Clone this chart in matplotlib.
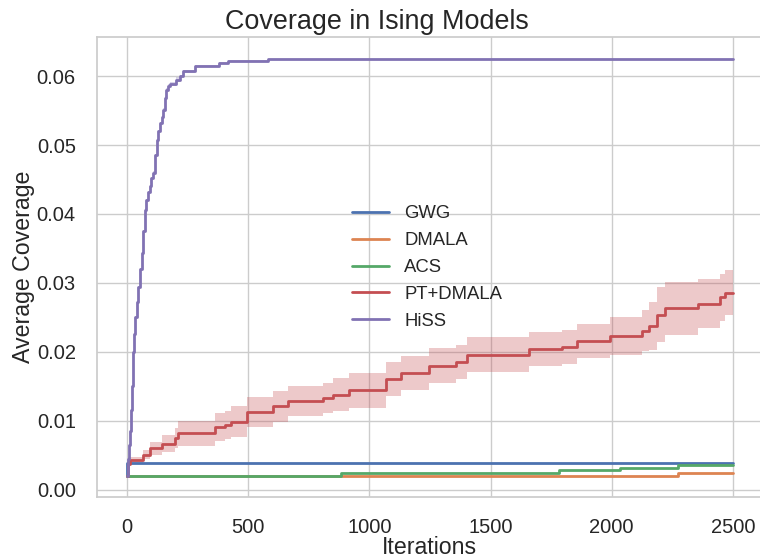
import matplotlib
matplotlib.use("Agg")
import matplotlib.pyplot as plt
import numpy as np
import seaborn as sns

sns.set_theme(style="whitegrid", palette="deep")
plt.rcParams['font.family'] = ['Liberation Sans', 'DejaVu Sans']

N_ITERS = 2500

# Step-wise coverage curves: (iteration where the value changes, new value)
gwg_iter = [0, 2]
gwg_val = [0.0020, 0.0039]

dmala_iter = [0, 2273]
dmala_val = [0.0020, 0.0024]

acs_iter = [0, 883, 1782, 2033, 2273]
acs_val = [0.0020, 0.0024, 0.0028, 0.0032, 0.0036]

pt_iter = [0, 3, 12, 65, 95, 143, 198, 211, 362, 403, 431, 497, 602, 664, 808,
           849, 918, 1069, 1130, 1247, 1359, 1405, 1658, 1796, 1858, 1995,
           2125, 2152, 2187, 2221, 2358, 2447, 2468]
pt_mean = [0.0020, 0.0037, 0.0043, 0.0051, 0.0060, 0.0067, 0.0075, 0.0082,
           0.0091, 0.0094, 0.0099, 0.0113, 0.0121, 0.0129, 0.0133, 0.0138,
           0.0144, 0.0161, 0.0169, 0.0180, 0.0185, 0.0196, 0.0204, 0.0207,
           0.0216, 0.0223, 0.0231, 0.0238, 0.0254, 0.0263, 0.0270, 0.0279,
           0.0286]
pt_std = [0.0000, 0.0003, 0.0004, 0.0007, 0.0010, 0.0012, 0.0014, 0.0018,
          0.0020, 0.0020, 0.0022, 0.0022, 0.0022, 0.0022, 0.0022, 0.0024,
          0.0026, 0.0025, 0.0025, 0.0025, 0.0025, 0.0025, 0.0025, 0.0025,
          0.0025, 0.0028, 0.0030, 0.0035, 0.0040, 0.0038, 0.0036, 0.0034,
          0.0033]

hiss_iter = [0, 3, 8, 12, 16, 20, 25, 29, 35, 41, 47, 53, 60, 67, 74, 80, 88,
             95, 101, 108, 115, 122, 129, 136, 143, 150, 157, 163, 170, 177,
             204, 218, 232, 280, 379, 416, 580]
hiss_val = [0.0020, 0.0045, 0.0065, 0.0085, 0.0115, 0.0150, 0.0200, 0.0226,
            0.0250, 0.0272, 0.0294, 0.0320, 0.0343, 0.0375, 0.0406, 0.0420,
            0.0432, 0.0440, 0.0452, 0.0460, 0.0485, 0.0507, 0.0520, 0.0532,
            0.0540, 0.0551, 0.0568, 0.0580, 0.0586, 0.0589, 0.0595, 0.0600,
            0.0607, 0.0615, 0.0619, 0.0622, 0.0625]
hiss_std = [0.0000, 0.0002, 0.0002, 0.0002, 0.0002, 0.0002, 0.0002, 0.0002,
            0.0002, 0.0002, 0.0002, 0.0002, 0.0002, 0.0002, 0.0002, 0.0002,
            0.0002, 0.0002, 0.0002, 0.0002, 0.0002, 0.0002, 0.0002, 0.0002,
            0.0003, 0.0003, 0.0003, 0.0003, 0.0003, 0.0003, 0.0003, 0.0002,
            0.0002, 0.0001, 0.0001, 0.0001, 0.0000]

labels = ["GWG", "DMALA", "ACS", "PT+DMALA", "HiSS"]
colors = sns.color_palette("deep")


def extend(iters, vals):
    """Close a step curve at the final iteration."""
    return np.array(list(iters) + [N_ITERS]), np.array(list(vals) + [vals[-1]])


fig = plt.figure(figsize=(7.6, 5.58), dpi=100)
ax = fig.add_axes([0.1272, 0.1093, 0.877, 0.8235])

series = [
    (gwg_iter, gwg_val, None),
    (dmala_iter, dmala_val, None),
    (acs_iter, acs_val, None),
    (pt_iter, pt_mean, pt_std),
    (hiss_iter, hiss_val, hiss_std),
]

for (it, val, std), lab, col in zip(series, labels, colors):
    x, y = extend(it, val)
    if std is not None:
        _, s = extend(it, std)
        ax.fill_between(x, y - s, y + s, step="post", color=col, alpha=0.3,
                        linewidth=0)
    ax.plot(x, y, drawstyle="steps-post", color=col, lw=2.0, label=lab)

ax.set_xlim(-125, 2625)
ax.set_ylim(-0.00105, 0.0656)
ax.set_xticks([0, 500, 1000, 1500, 2000, 2500])
ax.set_yticks([0.00, 0.01, 0.02, 0.03, 0.04, 0.05, 0.06])
ax.yaxis.set_major_formatter(matplotlib.ticker.FormatStrFormatter("%.2f"))
ax.tick_params(axis="both", labelsize=14.5, colors=".15", pad=9)

ax.set_xlabel("Iterations", fontsize=16.7, color=".15", labelpad=-0.5)
ax.set_ylabel("Average Coverage", fontsize=16.7, color=".15", labelpad=1)
fig.text(0.4955, 0.948, "Coverage in Ising Models", ha="center",
         va="baseline", fontsize=19.4, color=".15")

leg = ax.legend(loc="upper left", bbox_to_anchor=(0.454, 0.645),
                bbox_transform=fig.transFigure, frameon=False,
                fontsize=13.3, borderaxespad=0, labelspacing=0.53)
for t in leg.get_texts():
    t.set_color(".15")

fig.savefig("out.png", dpi=100)
